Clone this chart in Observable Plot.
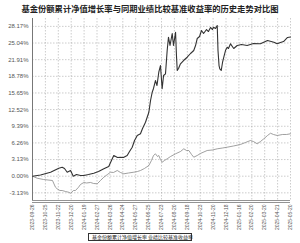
<!DOCTYPE html>
<html><head><meta charset="utf-8">
<script src="https://cdn.jsdelivr.net/npm/d3@7"></script>
<script src="https://cdn.jsdelivr.net/npm/@observablehq/plot@0.6"></script>
<style>
body{margin:0;width:300px;height:243px;overflow:hidden;background:#fff;position:relative}
#title{position:absolute;left:0;top:2px;width:300px;text-align:center;font-weight:bold;font-size:8.3px;font-family:"Noto Sans CJK SC",sans-serif;color:#222;white-space:nowrap;line-height:12px}
#chart{position:absolute;left:0;top:17px}
#legend{position:absolute;left:88px;top:233px;width:104px;height:8px;border:1px solid #333;box-sizing:border-box;font-family:"Noto Sans CJK SC",sans-serif;font-size:5px;line-height:6px;color:#222;display:flex;align-items:center;white-space:nowrap;padding-left:2px}
#legend .sw{display:inline-block;width:8px;height:0;margin-right:1px;vertical-align:middle}
</style></head>
<body>
<div id="title">基金份额累计净值增长率与同期业绩比较基准收益率的历史走势对比图</div>
<div id="chart"></div>
<div id="legend"><span class="sw" style="border-top:1px solid #333"></span><span>基金份额累计净值增长率</span><span style="width:3px"></span><span class="sw" style="border-top:1px solid #888"></span><span>业绩比较基准收益率</span></div>
<script>
const xLabels = ["2023-09-26","2023-10-25","2023-11-22","2023-12-20","2024-01-19","2024-02-27","2024-03-26","2024-04-24","2024-05-27","2024-06-25","2024-07-23","2024-08-20","2024-09-18","2024-10-23","2024-11-20","2024-12-18","2025-01-16","2025-02-20","2025-03-20","2025-04-21","2025-05-20"];
const yTicks = [-3.13,0,3.13,6.26,9.39,12.52,15.65,18.78,21.91,25.04,28.17];

const fundT = [0,0.62,1.40,2.04,2.30,2.48,2.69,2.95,3.16,3.41,3.72,3.98,4.34,4.75,5.12,5.53,5.91,6.12,6.30,6.59,6.82,7.05,7.34,7.52,7.73,7.91,8.12,8.37,8.53,8.76,9.02,9.15,9.28,9.38,9.53,9.65,9.79,9.92,10.05,10.16,10.31,10.44,10.54,10.66,10.83,10.93,11.09,11.16,11.22,11.32,11.47,11.71,11.99,12.25,12.50,12.64,12.77,12.95,13.10,13.26,13.49,13.64,13.80,13.95,14.03,14.19,14.32,14.38,14.46,14.52,14.63,14.73,14.83,14.96,15.09,15.19,15.35,15.60,15.87,16.20,16.64,17.13,17.67,18.22,18.71,18.97,19.22,19.46,19.77,20.00];
const fundV = [0,0.23,0.75,1.50,1.69,1.45,0.75,1.07,0,0.32,0.13,0.13,0.32,0.56,0.88,1.39,1.82,2.95,3.89,3.52,3.57,3.52,3.89,4.64,5.45,6.71,7.65,7.97,8.97,10.15,12.03,14.23,15.79,16.49,17.99,17.05,19.55,20.81,16.43,18.93,19.25,23.63,26.13,24.57,26.83,24.57,27.07,22.69,19.87,20.25,21.13,21.75,22.37,23.07,23.63,24.57,25.89,26.26,27.39,26.83,27.58,27.20,27.96,27.58,28.01,27.77,28.33,23.63,20.81,20.19,19.87,21.38,22.37,23.63,24.25,24.01,24.89,24.01,24.57,24.76,24.57,24.95,24.89,25.51,25.19,24.89,25.14,25.32,26.08,26.17];

const benchT = [0,0.36,0.85,1.55,1.78,1.91,2.12,2.30,2.56,2.79,2.95,3.18,3.33,3.57,3.72,3.98,4.19,4.50,4.73,5.02,5.27,5.53,5.81,6.05,6.28,6.57,6.82,7.08,7.44,7.85,8.14,8.37,8.68,9.02,9.22,9.38,9.53,9.69,9.79,9.92,10.05,10.23,10.44,10.70,11.09,11.47,11.73,11.94,12.12,12.33,12.50,12.77,13.02,13.54,13.95,14.32,14.73,15.09,15.58,16.12,16.51,16.90,17.13,17.42,17.67,17.93,18.22,18.45,18.68,18.97,19.38,19.69,20.00];
const benchV = [0,-0.38,-0.62,-0.81,-2.07,-2.37,-2.69,-2.69,-2.88,-3.01,-3.20,-2.69,-2.69,-2.07,-1.56,-1.18,-1.28,-1.18,-1.37,-1.43,-0.81,-0.19,0.32,0.75,0.70,1.07,0.70,0.45,0.60,0.75,0.88,1.07,1.45,2.01,2.95,3.89,4.21,3.70,3.89,3.14,2.63,2.95,3.27,3.70,4.21,4.64,5.15,4.83,4.83,4.08,3.57,3.89,4.27,4.83,4.93,5.15,5.30,5.45,5.68,5.96,6.34,6.71,6.52,6.09,6.52,7.03,7.65,8.08,7.84,7.65,7.84,7.84,7.97];

const fund = fundT.map((t,i)=>({t, v: fundV[i]}));
const bench = benchT.map((t,i)=>({t, v: benchV[i]}));
const xIdx = d3.range(xLabels.length);
const yMin = -4.57, yMax = 29.65;

const chart = Plot.plot({
  width: 300, height: 215,
  marginLeft: 32, marginRight: 10, marginTop: 1, marginBottom: 32,
  style: {fontFamily: "'Liberation Sans', Arial, sans-serif", background: "#fff"},
  x: {domain: [0, 20]},
  y: {domain: [yMin, yMax]},
  marks: [
    Plot.gridX(xIdx, {stroke: "#999", strokeOpacity: 1, strokeWidth: 0.5, strokeDasharray: "1.5,1.5"}),
    Plot.gridY(yTicks, {stroke: "#999", strokeOpacity: 1, strokeWidth: 0.5, strokeDasharray: "1.5,1.5"}),
    Plot.ruleX([0], {stroke: "#777", strokeWidth: 1}),
    Plot.ruleY([yMin], {stroke: "#777", strokeWidth: 0.8}),
    Plot.ruleY([yMin], {stroke: "#777", strokeWidth: 0.8, dy: 2}),
    Plot.axisY(yTicks, {tickSize: 0, tickPadding: 4, fontSize: 6, fill: "#555", tickFormat: d => d.toFixed(2) + "%", label: null}),
    Plot.axisX(xIdx, {tickSize: 0, tickPadding: 4, tickRotate: -90, fontSize: 5, fill: "#555", tickFormat: i => xLabels[i], label: null}),
    Plot.line(bench, {x: "t", y: "v", stroke: "#888", strokeWidth: 0.8}),
    Plot.line(fund, {x: "t", y: "v", stroke: "#333", strokeWidth: 1.1})
  ]
});
document.getElementById("chart").appendChild(chart);
</script>
</body></html>
